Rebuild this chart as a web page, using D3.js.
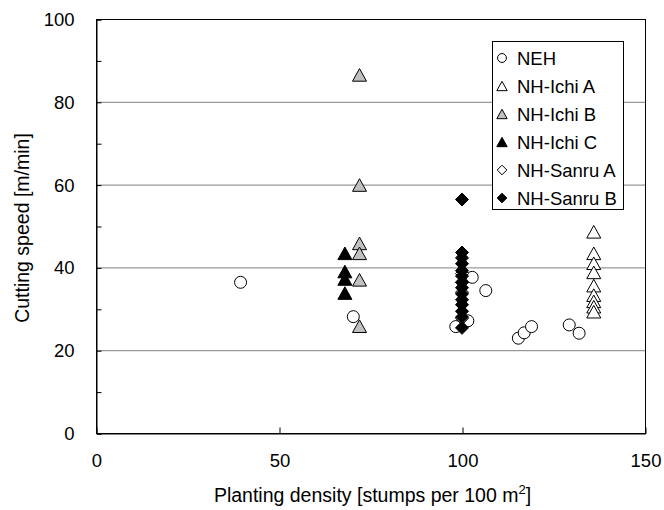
<!DOCTYPE html>
<html>
<head>
<meta charset="utf-8">
<script src="https://cdn.jsdelivr.net/npm/d3@7"></script>
<style>
  body { margin: 0; background: #fff; }
  svg { display: block; font-family: "Liberation Sans", Arial, sans-serif; }
</style>
</head>
<body>
<svg id="chart" width="664" height="510"></svg>
<script>
// values
const nehX = [39.5, 70.3, 98.3, 101.6, 102.8, 106.5, 115.4, 117.0, 119.0, 129.3, 132.0];
const nehY = [36.4, 28.1, 25.7, 27.1, 37.6, 34.4, 22.9, 24.2, 25.7, 26.1, 24.1];

const ichiAX = [136, 136, 136, 136, 136, 136, 136, 136, 136];
const ichiAY = [48.6, 43.4, 41.0, 38.8, 35.6, 33.3, 31.8, 30.5, 29.3];

const ichiBX = [72, 72, 72, 72, 72, 72];
const ichiBY = [86.5, 59.9, 45.8, 43.4, 37.0, 25.8];

const ichiCX = [68, 68, 68, 68];
const ichiCY = [43.4, 39.0, 37.2, 33.8];

const sanruAX = [100, 100, 100, 100];
const sanruAY = [38.5, 36.4, 34.0, 27.7];

const sanruBX = [100, 100, 100, 100, 100, 100, 100, 100, 100, 100, 100, 100, 100, 100];
const sanruBY = [56.4, 43.6, 42.3, 40.9, 39.2, 37.9, 36.4, 35.1, 33.6, 32.2, 31.0, 29.4, 28.0, 25.4];

const seriesNames = ["NEH", "NH-Ichi A", "NH-Ichi B", "NH-Ichi C", "NH-Sanru A", "NH-Sanru B"];
const yTicks = [0, 20, 40, 60, 80, 100];
const xTicks = [0, 50, 100, 150];

// marker shapes (size = width squared)
const triangle = {
    draw(ctx, size) {
        const s = Math.sqrt(size);
        ctx.moveTo(0, -s * 0.45);
        ctx.lineTo(s / 2, s * 0.45);
        ctx.lineTo(-s / 2, s * 0.45);
        ctx.closePath();
    }
};
const diamond = {
    draw(ctx, size) {
        const s = Math.sqrt(size) / 2;
        ctx.moveTo(0, -s);
        ctx.lineTo(s, 0);
        ctx.lineTo(0, s);
        ctx.lineTo(-s, 0);
        ctx.closePath();
    }
};
const circle = {
    draw(ctx, size) {
        const r = Math.sqrt(size) / 2;
        ctx.moveTo(r, 0);
        ctx.arc(0, 0, r, 0, 2 * Math.PI);
    }
};

const series = [
    { name: seriesNames[0], xs: nehX, ys: nehY, shape: circle, fill: "#fff", w: 12 },
    { name: seriesNames[1], xs: ichiAX, ys: ichiAY, shape: triangle, fill: "#fff", w: 14 },
    { name: seriesNames[2], xs: ichiBX, ys: ichiBY, shape: triangle, fill: "#c0c0c0", w: 14 },
    { name: seriesNames[3], xs: ichiCX, ys: ichiCY, shape: triangle, fill: "#000", w: 14 },
    { name: seriesNames[4], xs: sanruAX, ys: sanruAY, shape: diamond, fill: "#fff", w: 13 },
    { name: seriesNames[5], xs: sanruBX, ys: sanruBY, shape: diamond, fill: "#000", w: 13 }
];

const svg = d3.select("#chart");
const pLeft = 96, pRight = 645, pTop = 19, pBottom = 433;

const x = d3.scaleLinear().domain([0, 150]).range([pLeft, pRight]);
const y = d3.scaleLinear().domain([0, 100]).range([pBottom, pTop]);

// gridlines
svg.append("g")
    .selectAll("line")
    .data(yTicks.filter(d => d > 0 && d < 100))
    .enter().append("line")
    .attr("x1", pLeft).attr("x2", pRight)
    .attr("y1", d => y(d) + 0.5).attr("y2", d => y(d) + 0.5)
    .attr("stroke", "#808080")
    .attr("stroke-width", 1);

// frame
svg.append("rect")
    .attr("x", pLeft + 0.5).attr("y", pTop + 0.5)
    .attr("width", pRight - pLeft).attr("height", pBottom - pTop)
    .attr("fill", "none")
    .attr("stroke", "#000");

// y axis, ticks every 10, labels every 20
const yAxis = svg.append("g")
    .attr("transform", "translate(" + (pLeft + 0.5) + ",0.5)")
    .call(d3.axisLeft(y)
        .tickValues(d3.range(0, 101, 10))
        .tickSize(-5)
        .tickPadding(22)
        .tickFormat(d => yTicks.includes(d) ? d : ""));

// x axis
const xAxis = svg.append("g")
    .attr("transform", "translate(0.5," + (pBottom + 0.5) + ")")
    .call(d3.axisBottom(x)
        .tickValues(xTicks)
        .tickSize(-6)
        .tickPadding(20));

[yAxis, xAxis].forEach(a => {
    a.select(".domain").attr("stroke", "#000");
    a.selectAll(".tick line").attr("stroke", "#000");
    a.selectAll("text")
        .attr("font-family", "Liberation Sans, Arial, sans-serif")
        .attr("font-size", 18.5)
        .attr("fill", "#000");
});
xAxis.selectAll(".tick line").filter(d => d === 0 || d === 150).remove();

// axis titles
svg.append("text")
    .attr("transform", "translate(29," + ((pTop + pBottom) / 2 + 2) + ") rotate(-90)")
    .attr("text-anchor", "middle")
    .attr("font-size", 19.5)
    .text("Cutting speed [m/min]");

const xt = svg.append("text")
    .attr("x", (pLeft + pRight) / 2 + 2)
    .attr("y", 502)
    .attr("text-anchor", "middle")
    .attr("font-size", 19.5);
xt.append("tspan").text("Planting density [stumps per 100 m");
xt.append("tspan").attr("font-size", 13).attr("dy", -8).text("2");
xt.append("tspan").attr("dy", 8).text("]");

// points
series.forEach(s => {
    const sym = d3.symbol().type(s.shape).size(s.w * s.w);
    svg.append("g")
        .selectAll("path")
        .data(s.xs.map((v, i) => [v, s.ys[i]]))
        .enter().append("path")
        .attr("transform", d => "translate(" + x(d[0]) + "," + y(d[1]) + ")")
        .attr("d", sym)
        .attr("fill", s.fill)
        .attr("stroke", "#000")
        .attr("stroke-width", 1);
});

// legend
const legend = svg.append("g");
legend.append("rect")
    .attr("x", 492.5).attr("y", 41.5)
    .attr("width", 131).attr("height", 168)
    .attr("fill", "#fff")
    .attr("stroke", "#000");

const item = legend.selectAll("g.item")
    .data(series)
    .enter().append("g")
    .attr("class", "item")
    .attr("transform", (d, i) => "translate(502," + (58 + i * 28) + ")");
item.append("path")
    .attr("d", d => d3.symbol().type(d.shape).size(d.w * d.w * 0.55)())
    .attr("fill", d => d.fill)
    .attr("stroke", "#000");
item.append("text")
    .attr("x", 15)
    .attr("dy", "0.36em")
    .attr("font-size", 18.5)
    .text(d => d.name);
</script>
</body>
</html>
